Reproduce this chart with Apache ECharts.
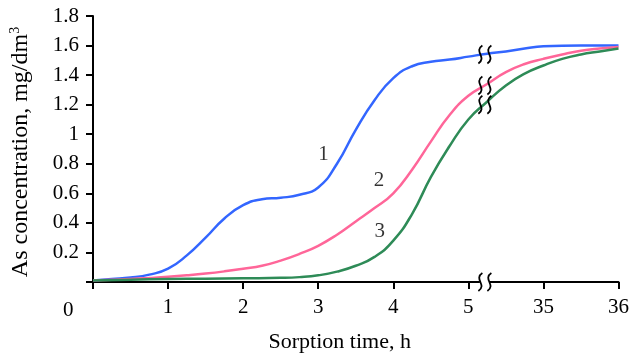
<!DOCTYPE html>
<html>
<head>
<meta charset="utf-8">
<script src="https://cdn.jsdelivr.net/npm/echarts@6/dist/echarts.min.js"></script>
<style>
  html, body { margin: 0; padding: 0; background: #fff; }
  #chart { width: 632px; height: 358px; }
</style>
</head>
<body>
<div id="chart"></div>
<script>
// x positions are axis slots: 0..5 h, then a break, slot 6 = 35 h, slot 7 = 36 h
const tickLabels = ['', '1', '2', '3', '4', '5', '35', '36'];

const curve1 = [
  [0, 0.01], [0.25, 0.02], [0.5, 0.03], [0.75, 0.05], [1.0, 0.09], [1.25, 0.18],
  [1.5, 0.3], [1.75, 0.43], [2.0, 0.52], [2.25, 0.56], [2.5, 0.57], [2.75, 0.59],
  [3.0, 0.64], [3.25, 0.8], [3.5, 1.03], [3.75, 1.23], [4.0, 1.38], [4.25, 1.46],
  [4.5, 1.49], [4.75, 1.505], [5.0, 1.525], [5.25, 1.545], [5.5, 1.56], [5.75, 1.58],
  [6.0, 1.595], [6.5, 1.6], [7.0, 1.6]
];
const curve2 = [
  [0, 0.01], [0.25, 0.015], [0.5, 0.02], [0.75, 0.027], [1.0, 0.035], [1.25, 0.045],
  [1.5, 0.057], [1.75, 0.072], [2.0, 0.09], [2.25, 0.11], [2.5, 0.145], [2.75, 0.19],
  [3.0, 0.245], [3.25, 0.32], [3.5, 0.41], [3.75, 0.5], [4.0, 0.6], [4.25, 0.76],
  [4.5, 0.95], [4.75, 1.13], [5.0, 1.26], [5.25, 1.34], [5.5, 1.42], [5.75, 1.475],
  [6.0, 1.51], [6.25, 1.54], [6.5, 1.565], [6.75, 1.58], [7.0, 1.59]
];
const curve3 = [
  [0, 0.01], [0.5, 0.015], [1.0, 0.02], [1.5, 0.022], [2.0, 0.025], [2.5, 0.028],
  [2.75, 0.033], [3.0, 0.045], [3.25, 0.07], [3.5, 0.11], [3.75, 0.17], [4.0, 0.28],
  [4.25, 0.46], [4.5, 0.71], [4.75, 0.92], [5.0, 1.1], [5.25, 1.22], [5.5, 1.33],
  [5.75, 1.41], [6.0, 1.465], [6.25, 1.51], [6.5, 1.54], [6.75, 1.56], [7.0, 1.58]
];

const curveNames = ['1', '2', '3'];
const curveLabelPos = [[3.07, 0.86], [3.81, 0.69], [3.82, 0.34]];

// where the break marks sit: on each curve and on the x axis
const breakX = 5.22;
const breakMarks = [[breakX, 1.54], [breakX, 1.33], [breakX, 1.2], [breakX, 0]];

const colors = ['#3366ff', '#ff6699', '#2e8b57'];
const font = 'Liberation Serif';

const chart = echarts.init(document.getElementById('chart'));

function lineSeries(data, color) {
  return {
    type: 'line',
    data: data,
    smooth: 0.5,
    symbol: 'none',
    lineStyle: { color: color, width: 2.5 },
    z: 2,
  };
}

const tickRich = { t: { fontFamily: font, fontSize: 21, color: '#000' } };

chart.setOption({
  animation: false,
  textStyle: { fontFamily: font },
  grid: { left: 93, right: 10, top: 16, bottom: 75 },
  xAxis: {
    type: 'value',
    min: 0, max: 7, interval: 1,
    name: 'Sorption time, h',
    nameLocation: 'middle', nameGap: 49,
    nameTextStyle: { color: '#000', fontFamily: font, fontSize: 22, padding: [0, 32, 0, 0] },
    axisLine: { onZero: false, lineStyle: { color: '#000', width: 2 } },
    axisTick: { length: 7, lineStyle: { color: '#000', width: 2 } },
    axisLabel: {
      color: '#000', fontFamily: font, fontSize: 21, margin: 15,
      formatter: v => {
        const s = tickLabels[Math.round(v)] ?? '';
        return s ? '{t|' + s + '}' : '';
      },
      rich: tickRich,
    },
    splitLine: { show: false },
  },
  yAxis: {
    type: 'value',
    min: 0, max: 1.8, interval: 0.2,
    name: 'As concentration, mg/dm{sup|3}',
    nameLocation: 'middle', nameGap: 60,
    nameTextStyle: {
      color: '#000', fontFamily: font, fontSize: 24, padding: [0, 6, 0, 0],
      rich: { sup: { fontFamily: font, fontSize: 14, verticalAlign: 'top', padding: [0, 0, 11, 0] } },
    },
    axisLine: { show: true, lineStyle: { color: '#000', width: 2 } },
    axisTick: { show: true, length: 7, lineStyle: { color: '#000', width: 2 } },
    axisLabel: {
      color: '#000', fontFamily: font, fontSize: 21, margin: 14,
      formatter: v => (v === 0 ? '' : '{t|' + (+v.toFixed(1)) + '}'),
      rich: tickRich,
    },
    splitLine: { show: false },
  },
  graphic: [{
    type: 'text', left: 63, top: 300,
    style: { text: '0', fontFamily: font, fontSize: 21, fill: '#000' },
  }],
  series: [
    lineSeries(curve1, colors[0]),
    lineSeries(curve2, colors[1]),
    lineSeries(curve3, colors[2]),
    {
      type: 'scatter',
      data: curveLabelPos.map((p, i) => ({ value: p, name: curveNames[i] })),
      symbolSize: 0,
      label: {
        show: true, position: 'inside', formatter: '{b}',
        color: '#000', fontFamily: font, fontSize: 21,
      },
      z: 3,
    },
    {
      type: 'custom',
      data: breakMarks,
      z: 5,
      renderItem: (params, api) => {
        const p = api.coord([api.value(0), api.value(1)]);
        const onAxis = api.value(1) === 0;
        const kids = [];
        if (onAxis) {
          kids.push({
            type: 'rect',
            shape: { x: p[0] - 5, y: p[1] - 2, width: 10, height: 4 },
            style: { fill: '#fff' },
          });
        }
        [-4.5, 4.5].forEach(dx => {
          const x = p[0] + dx, y = p[1];
          kids.push({
            type: 'bezierCurve',
            shape: {
              x1: x + 2, y1: y - 9, cpx1: x - 7, cpy1: y - 3,
              cpx2: x + 7, cpy2: y + 3, x2: x - 2, y2: y + 9,
            },
            style: { stroke: '#000', lineWidth: 1.8, fill: null },
          });
        });
        return { type: 'group', children: kids };
      },
    },
  ],
});
</script>
</body>
</html>
